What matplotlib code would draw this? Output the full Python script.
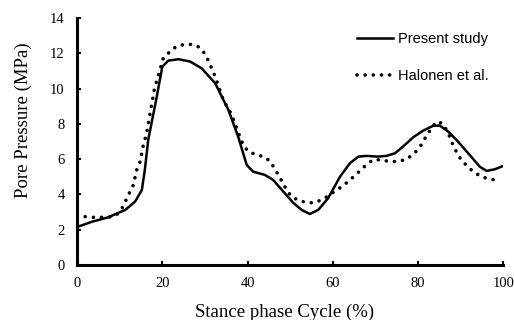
import matplotlib
matplotlib.use("Agg")
import matplotlib.pyplot as plt

# Present study (solid line)
present_x = [0, 3.5, 7.3, 11.3, 13.6, 15.2, 15.9, 16.7, 18.7, 20, 21.4, 23.75, 26.5, 29.2,
             32.4, 35.5, 37.8, 39.8, 41.3, 44.1, 46, 48.4, 50.7, 52.7, 54.6, 56.6, 58.9,
             61.7, 64, 66, 67.9, 70.6, 72.6, 74.6, 76.5, 78.9, 81.2, 83.5, 85.1, 87.1, 89.4,
             92.1, 94.5, 96.1, 98, 100]
present_y = [2.15, 2.45, 2.7, 3.12, 3.59, 4.25, 5.4, 7.1, 9.54, 11.24, 11.58, 11.66, 11.53,
             11.15, 10.3, 8.79, 7.27, 5.67, 5.29, 5.1, 4.82, 4.16, 3.53, 3.12, 2.89, 3.12,
             3.78, 5.0, 5.76, 6.14, 6.18, 6.14, 6.18, 6.33, 6.71, 7.24, 7.61, 7.88, 7.9, 7.56,
             6.99, 6.24, 5.57, 5.33, 5.42, 5.61]

# Halonen et al. (dotted line)
halonen_x = [0, 1.9, 3.8, 5.7, 7.7, 9.5, 10.5, 11.5, 12.3, 13.2, 14, 14.8, 15.5, 16.3, 18.1,
             20.2, 21.8, 23.4, 25.3, 27, 28.8, 30, 30.9, 32.4, 34.3, 36.3, 38.2, 39, 40.2,
             42.1, 43.8, 45.4, 46.4, 47.4, 48.2, 49.2, 50.3, 52.1, 53.9, 55.8, 57.6, 59.3,
             60.9, 62.4, 64, 65.4, 66.7, 68.3, 69.5, 71.4, 73.4, 75.3, 77.3, 78.9, 80.3, 81.2,
             82.1, 83.2, 84.3, 85.7, 86.8, 87.6, 88.2, 89.2, 90.4, 91.8, 92.9, 94.5, 96.4,
             98.2, 99]
halonen_y = [2.78, 2.74, 2.7, 2.7, 2.72, 2.89, 3.2, 3.68, 4.1, 4.53, 5.39, 5.86, 6.75, 7.45,
             9.92, 11.7, 12.1, 12.4, 12.5, 12.5, 12.33, 11.96, 11.53, 10.68, 9.35, 8.5, 7.27,
             6.8, 6.42, 6.24, 6.14, 5.86, 5.42, 5.05, 4.67, 4.25, 3.87, 3.65, 3.53, 3.53, 3.72,
             3.97, 4.25, 4.48, 4.82, 5.1, 5.42, 5.76, 5.97, 5.95, 5.86, 5.86, 5.99, 6.28, 6.61,
             6.99, 7.37, 7.75, 8.12, 8.03, 7.61, 7.18, 6.8, 6.33, 5.86, 5.57, 5.29, 5.06, 4.88,
             4.82, 4.81]

serif = ["Liberation Serif", "DejaVu Serif"]
sans = ["Liberation Sans", "DejaVu Sans"]

fig = plt.figure(figsize=(5.14, 3.2), dpi=100)
ax = fig.add_axes([0.150, 0.172, 0.829, 0.772])

ax.plot(present_x, present_y, color="black", lw=1.8, label="Present study")
ax.plot(halonen_x, halonen_y, color="black", lw=2.6, linestyle=(0, (0.01, 2.25)),
        dash_capstyle="round", label="Halonen et al.")

ax.set_xlim(0, 100)
ax.set_ylim(0, 14)
ax.set_xticks([0, 20, 40, 60, 80, 100])
ax.set_yticks([0, 2, 4, 6, 8, 10, 12, 14])

for s in ["top", "right"]:
    ax.spines[s].set_visible(False)
for s in ["left", "bottom"]:
    ax.spines[s].set_linewidth(2.2)

ax.tick_params(direction="in", length=3, width=1.5, labelsize=10.5, pad=9)
for lab in ax.get_xticklabels() + ax.get_yticklabels():
    lab.set_family(serif)

ax.set_xlabel("Stance phase Cycle (%)", family=serif, fontsize=13.5)
ax.set_ylabel("Pore Pressure (MPa)", family=serif, fontsize=13.5)
ax.xaxis.set_label_coords(0.486, -0.155)
ax.yaxis.set_label_coords(-0.105, 0.587)

ax.legend(loc="upper left", bbox_to_anchor=(0.6946, 0.90), bbox_transform=fig.transFigure,
          frameon=False, borderpad=0, borderaxespad=0,
          handlelength=2.47, handletextpad=0.34, labelspacing=1.6,
          prop={"family": sans, "size": 10.5})

fig.savefig("out.png", dpi=100)
